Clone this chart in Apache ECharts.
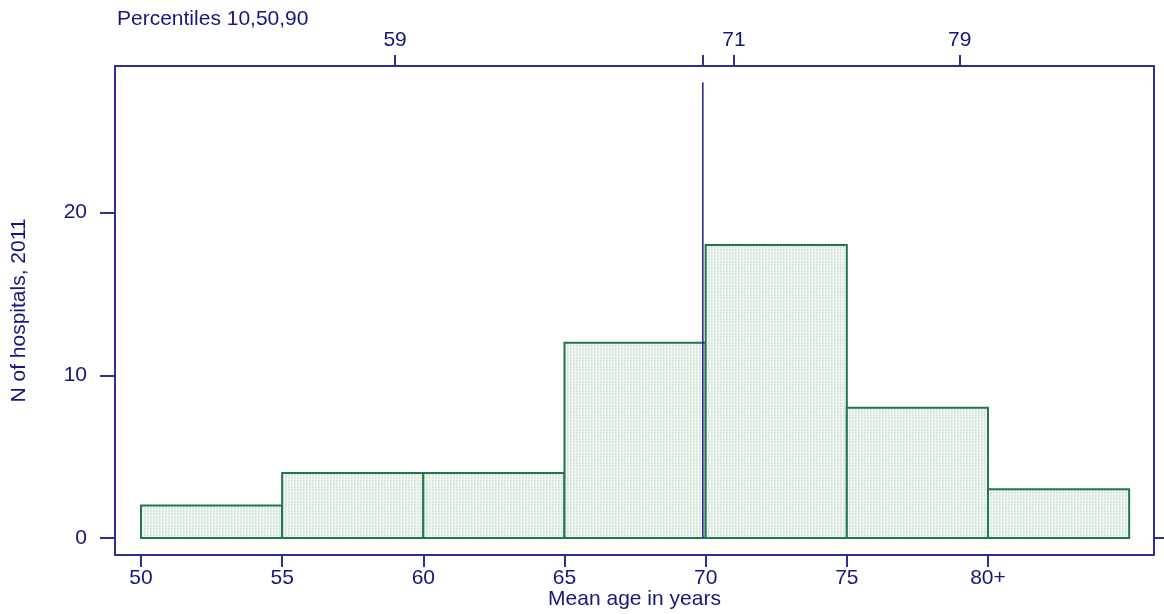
<!DOCTYPE html>
<html>
<head>
<meta charset="utf-8">
<script src="https://cdn.jsdelivr.net/npm/echarts@6/dist/echarts.min.js"></script>
<style>
html,body{margin:0;padding:0;background:#fff;}
#chart{width:1164px;height:614px;}
</style>
</head>
<body>
<div id="chart"></div>
<script>
// Data
const binStarts = [50, 55, 60, 65, 70, 75, 80];
const binEnds   = [55, 60, 65, 70, 75, 80, 85];
const counts    = [2, 4, 4, 12, 18, 8, 3];
const bottomTicks = [50, 55, 60, 65, 70, 75, 80];
const bottomTickLabels = ['50', '55', '60', '65', '70', '75', '80+'];
const percentileTicks = [59, 69.9, 71, 79];
const percentileLabels = [59, 71, 79];
const yTicks = [0, 10, 20];
const medianLine = [[69.9, 0], [69.9, 28]];

const TXT = '#16167f';
const AX = '#2e2e92';
const FONT = 'Liberation Sans, Arial, sans-serif';
const FS = 21;

// dotted fill pattern
const pc = document.createElement('canvas');
pc.width = 3; pc.height = 3;
const pctx = pc.getContext('2d');
pctx.fillStyle = '#f3f8f5'; pctx.fillRect(0, 0, 3, 3);
pctx.fillStyle = '#cfe2d6'; pctx.fillRect(0, 0, 1, 2);
pctx.fillStyle = '#e2eee6'; pctx.fillRect(1, 0, 1, 3);

const barData = binStarts.map((s, i) => [s, binEnds[i], counts[i]]);

const chart = echarts.init(document.getElementById('chart'), null, {renderer: 'canvas'});
chart.setOption({
  animation: false,
  backgroundColor: '#fff',
  textStyle: {fontFamily: FONT},
  title: {
    text: 'Percentiles 10,50,90',
    left: 112, top: 4,
    textStyle: {fontFamily: FONT, fontSize: FS, fontWeight: 'normal', color: TXT}
  },
  grid: {left: 115, right: 10, top: 66, bottom: 59, containLabel: false, outerBoundsMode: 'none'},
  xAxis: [{
    type: 'value', min: 49.08, max: 85.88, position: 'bottom',
    name: 'Mean age in years', nameLocation: 'middle', nameGap: 34, nameMoveOverlap: false,
    nameTextStyle: {fontFamily: FONT, fontSize: FS, color: TXT},
    splitLine: {show: false},
    axisLine: {show: true, onZero: false, lineStyle: {color: AX, width: 2}},
    axisTick: {show: true, length: 12, customValues: bottomTicks, lineStyle: {color: AX, width: 2}},
    axisLabel: {
      customValues: bottomTicks, margin: 13, color: TXT, fontSize: FS, fontFamily: FONT,
      formatter: v => bottomTickLabels[bottomTicks.indexOf(v)]
    }
  }, {
    type: 'value', min: 49.08, max: 85.88, position: 'top',
    splitLine: {show: false},
    axisLine: {show: true, onZero: false, lineStyle: {color: AX, width: 2}},
    axisTick: {show: true, length: 11, customValues: percentileTicks, lineStyle: {color: AX, width: 2}},
    axisLabel: {customValues: percentileLabels, margin: 15, color: TXT, fontSize: FS, fontFamily: FONT}
  }],
  yAxis: [{
    type: 'value', min: -1.04, max: 29, position: 'left',
    name: 'N of hospitals, 2011', nameLocation: 'middle', nameGap: 85, nameRotate: 90,
    nameTextStyle: {fontFamily: FONT, fontSize: FS, color: TXT},
    splitLine: {show: false},
    axisLine: {show: true, onZero: false, lineStyle: {color: AX, width: 2}},
    axisTick: {show: true, length: 15, customValues: yTicks, lineStyle: {color: AX, width: 2}},
    axisLabel: {customValues: yTicks, margin: 28, color: TXT, fontSize: FS, fontFamily: FONT}
  }, {
    type: 'value', min: -1.04, max: 29, position: 'right',
    splitLine: {show: false},
    axisLine: {show: true, onZero: false, lineStyle: {color: AX, width: 2}},
    axisTick: {show: true, length: 10, customValues: [0], lineStyle: {color: AX, width: 2}},
    axisLabel: {show: false}
  }],
  series: [{
    type: 'custom',
    xAxisIndex: 0, yAxisIndex: 0,
    data: barData,
    renderItem: function (params, api) {
      const p0 = api.coord([api.value(0), api.value(2)]);
      const p1 = api.coord([api.value(1), 0]);
      return {
        type: 'rect',
        shape: {x: p0[0], y: p0[1], width: p1[0] - p0[0], height: p1[1] - p0[1]},
        style: {fill: {image: pc, repeat: 'repeat'}, stroke: '#22774a', lineWidth: 2}
      };
    }
  }, {
    type: 'line',
    xAxisIndex: 0, yAxisIndex: 0,
    data: medianLine,
    symbol: 'none',
    lineStyle: {color: '#1a1aa0', width: 1.5},
    z: 5
  }]
});
</script>
</body>
</html>
